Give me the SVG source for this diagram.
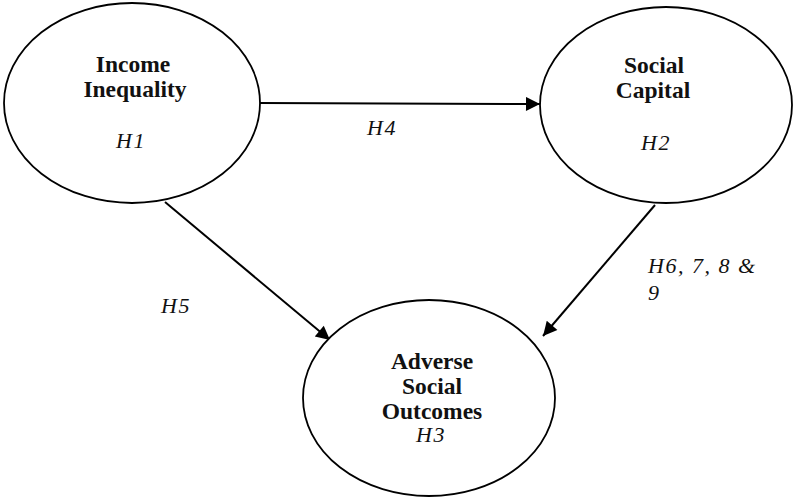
<svg xmlns="http://www.w3.org/2000/svg" width="794" height="502" viewBox="0 0 794 502">
<style>
.node{fill:#fff;stroke:#000;stroke-width:1.8}
.t{font-family:"Liberation Serif",serif;font-size:23.5px;font-weight:bold;text-anchor:middle;fill:#111}
.h{font-family:"Liberation Serif",serif;font-size:22px;font-style:italic;letter-spacing:1.5px;fill:#111}
.c{stroke:#000;stroke-width:2;fill:none;marker-end:url(#ah)}
</style>
<defs>
<marker id="ah" viewBox="0 0 10 10" refX="10" refY="5" markerWidth="20" markerHeight="14" markerUnits="userSpaceOnUse" orient="auto">
<path d="M0,0 L10,5 L0,10 Z" fill="#000"/>
</marker>
</defs>
<rect width="794" height="502" fill="#fff"/>
<g id="connectors">
<line class="c" x1="260" y1="103" x2="540" y2="104"/>
<line class="c" x1="165" y1="202" x2="330" y2="340"/>
<line class="c" x1="655" y1="205" x2="543" y2="336"/>
<text class="h" x="367" y="135">H4</text>
<text class="h" x="161" y="313">H5</text>
<text class="h" x="648" y="273">H6, 7, 8 &amp;</text>
<text class="h" x="648" y="300">9</text>
</g>
<g id="income">
<ellipse class="node" cx="132" cy="103" rx="128" ry="100"/>
<text class="t" x="133" y="72">Income</text>
<text class="t" x="135" y="97">Inequality</text>
<text class="h" x="131" y="148" text-anchor="middle">H1</text>
</g>
<g id="social">
<ellipse class="node" cx="666" cy="105" rx="126" ry="98"/>
<text class="t" x="654" y="73">Social</text>
<text class="t" x="653" y="98">Capital</text>
<text class="h" x="656" y="150" text-anchor="middle">H2</text>
</g>
<g id="adverse">
<ellipse class="node" cx="429" cy="398" rx="126" ry="98"/>
<text class="t" x="432" y="369">Adverse</text>
<text class="t" x="432" y="394">Social</text>
<text class="t" x="432" y="419">Outcomes</text>
<text class="h" x="431" y="442" text-anchor="middle">H3</text>
</g>
</svg>
